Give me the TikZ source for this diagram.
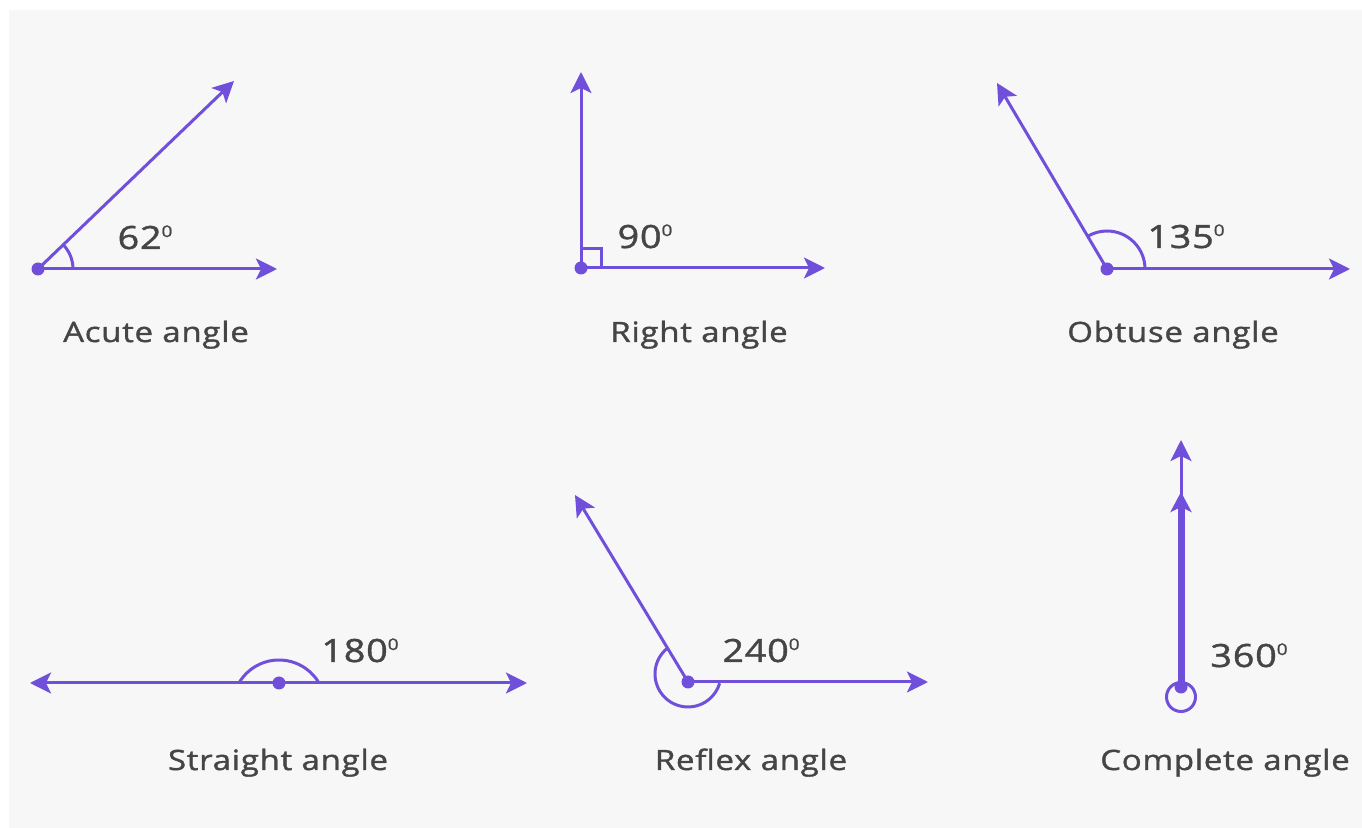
\documentclass[tikz,border=0pt]{standalone}
\usepackage{fontspec}
\setmainfont{Open Sans}[FakeStretch=1.18,LetterSpace=2.5,FakeBold=1.3]
\usetikzlibrary{arrows.meta}
\definecolor{ac}{HTML}{7050DB}
\definecolor{txt}{HTML}{454545}
\definecolor{bg}{HTML}{F7F7F7}
\tikzset{
  ray/.style={draw=ac, line width=1.5pt, -{Stealth[length=10.5pt,width=10.5pt,inset=2.5pt]}},
  mark arc/.style={draw=ac, line width=1.5pt},
  vdot/.style={circle, fill=ac, inner sep=0pt, minimum size=6.5pt},
  caption/.style={text=txt, anchor=base, font=\fontsize{14}{16}\selectfont},
  deg/.style={text=txt, anchor=base, font=\fontsize{16}{18}\selectfont, inner sep=0pt}
}
\newcommand{\degsup}{\raisebox{6pt}{\fontsize{8}{8}\selectfont 0}}
\begin{document}
\begin{tikzpicture}[x=0.5pt,y=-0.5pt]
\useasboundingbox (0,0) rectangle (1362,828);
\fill[white] (0,0) rectangle (1362,828);
\fill[bg] (9,10) rectangle (1362,828);

% ---- Acute
\node[vdot] (v1) at (38,269) {};
\coordinate (a1) at (277,269);
\coordinate (b1) at (234,81);
\draw[ray] (v1.center) -- (a1);
\draw[ray] (v1.center) -- (b1);
\draw[mark arc] (v1.center) ++(35,0) arc[start angle=0,end angle=-43.8,radius=35];
\node[deg] (t1) at (145,249) {62\degsup};
\node[caption] (c1) at (156,342) {Acute angle};

% ---- Right
\node[vdot] (v2) at (581,268) {};
\coordinate (a2) at (825,268);
\coordinate (b2) at (581,72);
\draw[ray] (v2.center) -- (a2);
\draw[ray] (v2.center) -- (b2);
\draw[mark arc] (v2.center) ++(20,0) -- ++(0,-19) -- ++(-20,0);
\node[deg] (t2) at (645,248) {90\degsup};
\node[caption] (c2) at (699,342) {Right angle};

% ---- Obtuse
\node[vdot] (v3) at (1107,269) {};
\coordinate (a3) at (1350,269);
\coordinate (b3) at (997,83);
\draw[ray] (v3.center) -- (a3);
\draw[ray] (v3.center) -- (b3);
\draw[mark arc] (v3.center) ++(38,0) arc[start angle=0,end angle=-120.6,radius=38];
\node[deg] (t3) at (1186,248) {135\degsup};
\node[caption] (c3) at (1173,342) {Obtuse angle};

% ---- Straight
\node[vdot] (v4) at (279,683) {};
\coordinate (a4) at (527,683);
\coordinate (b4) at (30,683);
\draw[ray] (v4.center) -- (a4);
\draw[ray] (v4.center) -- (b4);
\draw[mark arc] (v4.center) ++(40,0) arc[start angle=-30.2,end angle=-149.8,radius=46.3];
\node[deg] (t4) at (360,662) {180\degsup};
\node[caption] (c4) at (278,770) {Straight angle};

% ---- Reflex
\node[vdot] (v5) at (688,682) {};
\coordinate (a5) at (928,682);
\coordinate (b5) at (575,495);
\draw[ray] (v5.center) -- (a5);
\draw[ray] (v5.center) -- (b5);
\draw[mark arc] (v5.center) ++(-20.5,-33.9) arc[start angle=-128.4,end angle=-343.6,radius=33];
\node[deg] (t5) at (761,662) {240\degsup};
\node[caption] (c5) at (751,770) {Reflex angle};

% ---- Complete
\node[draw=ac, line width=1.5pt, circle, inner sep=0pt, minimum size=14.5pt] (o6) at (1181,697) {};
\node[vdot] (v6) at (1181,687) {};
\coordinate (a6) at (1181,440);
\coordinate (b6) at (1181,492);
\draw[ray] (v6.center) -- (a6);
\draw[draw=ac, line width=3.5pt, -{Stealth[length=10pt,width=10.5pt,inset=2.5pt]}] (v6.center) -- (b6);
\node[deg] (t6) at (1249,667) {360\degsup};
\node[caption] (c6) at (1225,770) {Complete angle};
\end{tikzpicture}
\end{document}
